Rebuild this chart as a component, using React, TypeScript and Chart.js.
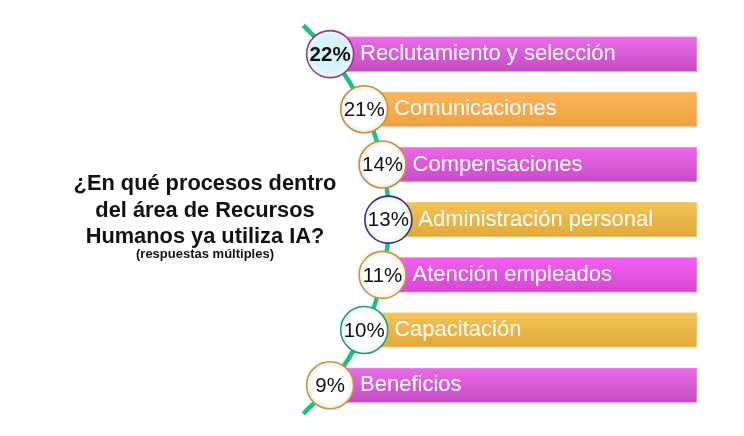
import React, { useEffect, useRef } from "react";
import { Chart, registerables } from "chart.js";

Chart.register(...registerables);

// ---- data ----
const categories = [
  "Reclutamiento y selección",
  "Comunicaciones",
  "Compensaciones",
  "Administración personal",
  "Atención empleados",
  "Capacitación",
  "Beneficios",
];
const percentages = [22, 21, 14, 13, 11, 10, 9];
const percentLabels = percentages.map((p) => `${p}%`);

const titleLines = ["¿En qué procesos dentro", "del área de Recursos", "Humanos ya utiliza IA?"];
const subtitle = "(respuestas múltiples)";

// ---- styles ----
const barTop = ["#ec6cea", "#fbb65a", "#ee68ec", "#f4c356", "#f660f4", "#f4c356", "#ec6cea"];
const barBottom = ["#c24cc0", "#eea040", "#c84cc6", "#e0a83a", "#d448d2", "#e0a83a", "#c24cc0"];
const barBorder = ["#eaa0e8", "#f6cc90", "#eaa0e8", "#f2d488", "#eaa0e8", "#f2d488", "#eaa0e8"];
const circleFill = ["#d6f3fb", "#ffffff", "#ffffff", "#ffffff", "#ffffff", "#ffffff", "#ffffff"];
const circleEdge = ["#eef9fc", "#f2efe8", "#f2efe8", "#f2efe8", "#f2efe8", "#eef4f2", "#f2efe8"];
const circleBorder = ["#8e3a8e", "#c98e3a", "#d08a3c", "#2a3590", "#c8963c", "#2a9a78", "#c8963c"];
const boldPercent = [true, false, false, false, false, false, false];

// ---- layout (decorative arc the markers follow) ----
const MID = (categories.length - 1) / 2;
const ARC_X = 52.2;
const ARC_R = 4.8;
const ARC_DEPTH = 35.7;
const BAR_END = 93.7;
const arcX = (i: number) => {
  const d = (i - MID) / ARC_R;
  return ARC_X - ARC_DEPTH * (1 - Math.sqrt(Math.max(0, 1 - d * d)));
};
const linePositions = [-0.52, ...categories.map((_, i) => i), categories.length - 0.48];

const FONT = '"Liberation Sans", Arial, Helvetica, sans-serif';

export default function App() {
  const canvasRef = useRef<HTMLCanvasElement | null>(null);

  useEffect(() => {
    document.body.style.margin = "0";
    const canvas = canvasRef.current;
    if (!canvas) return;

    const labelPlugin = {
      id: "rowLabels",
      afterDatasetsDraw(chart: any) {
        const meta = chart.getDatasetMeta(2);
        const ctx = chart.ctx;
        ctx.save();
        ctx.textBaseline = "middle";
        meta.data.forEach((el: any, i: number) => {
          ctx.fillStyle = "#111111";
          ctx.textAlign = "center";
          ctx.font = `${boldPercent[i] ? "bold " : ""}20.5px ${FONT}`;
          ctx.fillText(percentLabels[i], el.x, el.y + 1);
          ctx.fillStyle = "#ffffff";
          ctx.textAlign = "left";
          ctx.font = `22px ${FONT}`;
          ctx.fillText(categories[i], el.x + 30, el.y);
        });
        ctx.restore();
      },
    };

    const barGradient = (c: any) => {
      const i = c.dataIndex ?? 0;
      const ys = c.chart.scales?.y;
      const yc = ys ? ys.getPixelForValue(i) : NaN;
      if (!Number.isFinite(yc)) return barTop[i];
      const g = c.chart.ctx.createLinearGradient(0, yc - 18, 0, yc + 18);
      g.addColorStop(0, barTop[i]);
      g.addColorStop(1, barBottom[i]);
      return g;
    };

    const circleGradient = (c: any) => {
      const i = c.dataIndex ?? 0;
      const xs = c.chart.scales?.x;
      const ys = c.chart.scales?.y;
      const px = xs ? xs.getPixelForValue(arcX(i)) : NaN;
      const py = ys ? ys.getPixelForValue(i) : NaN;
      if (!Number.isFinite(px) || !Number.isFinite(py)) return circleFill[i];
      const g = c.chart.ctx.createRadialGradient(px, py, 2, px, py, 23.5);
      g.addColorStop(0, circleFill[i]);
      g.addColorStop(0.7, circleFill[i]);
      g.addColorStop(1, circleEdge[i]);
      return g;
    };

    let chart: Chart | null = null;
    try {
      chart = new Chart(canvas, {
        type: "bar",
        data: {
          datasets: [
            {
              type: "line",
              data: linePositions.map((p) => ({ x: arcX(p), y: p })),
              borderColor: "#1cbf88",
              borderWidth: 4.5,
              pointRadius: 0,
              pointHoverRadius: 0,
              tension: 0.4,
              fill: false,
              clip: false,
              order: 3,
            } as any,
            {
              type: "bar",
              indexAxis: "y",
              data: categories.map((_, i) => ({ x: [arcX(i), BAR_END], y: i })),
              barThickness: 35,
              borderWidth: 1,
              borderSkipped: false,
              borderColor: barBorder,
              backgroundColor: barGradient,
              clip: false,
              order: 2,
            } as any,
            {
              type: "scatter",
              data: categories.map((_, i) => ({ x: arcX(i), y: i })),
              pointRadius: 23.5,
              pointHoverRadius: 23.5,
              pointBorderWidth: 1.6,
              pointBorderColor: circleBorder,
              pointBackgroundColor: circleGradient,
              clip: false,
              order: 1,
            } as any,
          ],
        },
        options: {
          animation: false,
          responsive: true,
          maintainAspectRatio: false,
          layout: { padding: 0, autoPadding: false },
          plugins: {
            legend: { display: false },
            tooltip: { enabled: false },
            title: { display: false },
          },
          events: [],
          scales: {
            x: { type: "linear", min: 0, max: 100, display: false, offset: false, grid: { offset: false } },
            y: {
              type: "linear",
              min: -0.98,
              max: 6.92,
              reverse: true,
              display: false,
              offset: false,
              grid: { offset: false },
            },
          },
        } as any,
        plugins: [labelPlugin],
      });
    } catch (e) {
      console.error(e);
    }

    return () => {
      if (chart) chart.destroy();
    };
  }, []);

  return (
    <div style={{ position: "relative", width: 744, height: 436, background: "#ffffff", fontFamily: FONT }}>
      <canvas ref={canvasRef} />
      <div
        style={{
          position: "absolute",
          left: 55,
          top: 170,
          width: 300,
          textAlign: "center",
          fontWeight: "bold",
          fontSize: 21.8,
          lineHeight: "26.5px",
          color: "#111111",
        }}
      >
        {titleLines.map((t) => (
          <div key={t}>{t}</div>
        ))}
        <div style={{ fontSize: 13, lineHeight: "15px", marginTop: -4 }}>{subtitle}</div>
      </div>
    </div>
  );
}
